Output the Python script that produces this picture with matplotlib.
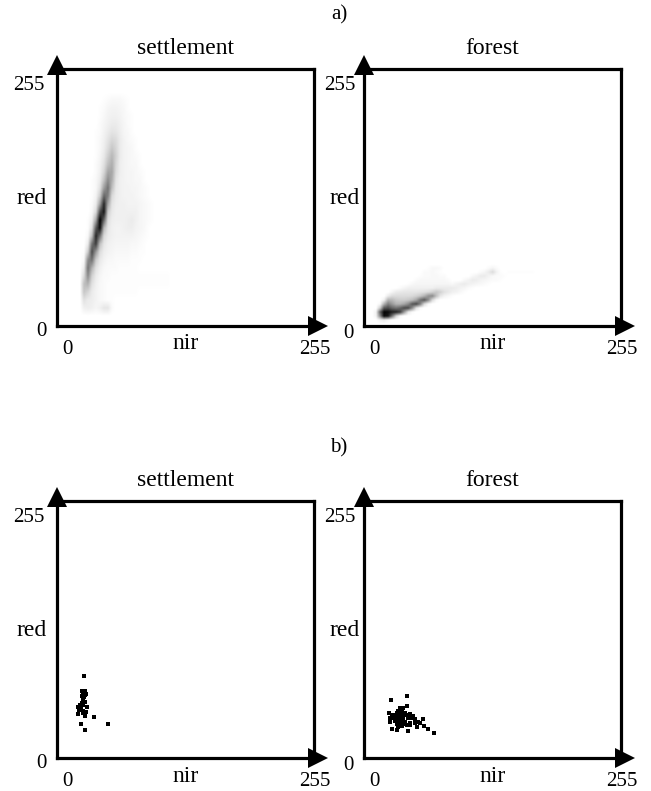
import matplotlib.pyplot as plt
import numpy as np

plt.rcParams['font.family'] = ['Liberation Serif', 'DejaVu Serif']

W, H = 651, 791

# density (darkness 0-100), one row per red value
# rows may stop early, the rest of the row is blank
settle_nir = [27, 31, 35, 39, 43, 47, 51, 55, 59, 63, 67, 71, 75, 79, 83, 87, 91, 95, 99, 103, 107, 111]
settle_red = [226, 218, 210, 202, 194, 186, 178, 170, 162, 154, 146, 138, 130, 122, 114, 106, 98, 90, 82, 74, 66, 58, 50, 42, 34, 26, 18]
settle_density = [
    [0, 0, 0, 0, 0, 1, 2, 3, 3, 3, 2, 1],
    [0, 0, 0, 0, 1, 2, 4, 5, 5, 4, 3, 1],
    [0, 0, 0, 0, 1, 3, 5, 6, 6, 5, 3, 2, 1],
    [0, 0, 0, 0, 2, 4, 6, 8, 8, 6, 4, 2, 1],
    [0, 0, 0, 1, 2, 5, 8, 11, 10, 7, 4, 3, 1],
    [0, 0, 0, 1, 3, 6, 11, 16, 14, 8, 5, 3, 2, 1],
    [0, 0, 0, 1, 3, 7, 14, 22, 16, 8, 5, 4, 3, 1],
    [0, 0, 0, 1, 4, 9, 19, 28, 18, 8, 5, 4, 3, 2, 1],
    [0, 0, 0, 2, 5, 12, 25, 32, 16, 7, 5, 4, 3, 3, 1],
    [0, 0, 0, 2, 6, 16, 35, 35, 14, 7, 5, 4, 4, 3, 2, 1],
    [0, 0, 1, 3, 8, 24, 45, 32, 11, 6, 5, 4, 4, 3, 3, 1],
    [0, 0, 1, 3, 12, 38, 55, 25, 9, 6, 5, 5, 4, 4, 3, 2, 1],
    [0, 0, 1, 5, 20, 60, 50, 15, 8, 6, 5, 5, 5, 4, 3, 2, 1],
    [0, 0, 2, 8, 38, 85, 35, 11, 7, 6, 6, 5, 5, 5, 4, 3, 2, 1],
    [0, 0, 3, 15, 70, 90, 20, 9, 6, 6, 6, 6, 6, 6, 4, 3, 2, 1],
    [0, 1, 6, 35, 100, 60, 13, 7, 6, 6, 6, 7, 8, 6, 4, 3, 2, 1],
    [0, 1, 12, 65, 95, 28, 10, 6, 5, 5, 6, 7, 7, 5, 4, 3, 1],
    [0, 3, 25, 85, 55, 15, 8, 6, 5, 5, 5, 5, 5, 4, 3, 2, 1],
    [0, 8, 55, 75, 25, 10, 6, 5, 4, 4, 4, 4, 3, 3, 2, 1],
    [1, 20, 70, 40, 14, 7, 5, 4, 3, 3, 3, 3, 2, 2, 1, 1],
    [3, 45, 55, 20, 9, 5, 3, 3, 2, 2, 2, 2, 1, 1, 1],
    [8, 55, 30, 12, 6, 3, 2, 2, 2, 1, 1, 1, 1, 1],
    [15, 45, 18, 8, 4, 2, 2, 1, 1, 1, 1, 1, 1, 1, 1, 1, 1, 1, 1, 1, 1, 1],
    [25, 30, 12, 6, 3, 2, 1, 1, 1, 1, 1, 1, 1, 1, 1, 1, 1, 1, 1, 1, 1, 1],
    [22, 16, 8, 5, 3, 2, 1, 1, 1, 1, 1, 1, 1, 1],
    [12, 8, 7, 5, 3, 2, 1, 1],
    [6, 7, 6, 4, 6, 10, 10, 2],
]

forest_nir = [12, 16, 20, 24, 28, 32, 36, 40, 44, 48, 52, 56, 60, 64, 68, 72, 76, 80, 84, 88, 92, 96, 100, 104, 108,
              112, 116, 120, 124, 128, 132, 136, 140, 144, 148, 152, 156, 160, 164, 168]
forest_red = [58, 54, 50, 46, 42, 38, 34, 30, 26, 22, 18, 14, 10, 6]
forest_density = [
    [0, 0, 0, 0, 0, 0, 0, 0, 0, 0, 0, 0, 0, 1, 3, 3, 2, 0, 0, 0, 0, 0, 0, 0, 0, 0, 0, 0, 2, 4, 2],
    [0, 0, 0, 0, 0, 0, 0, 0, 0, 0, 0, 0, 2, 2, 3, 2, 1, 0, 0, 0, 0, 0, 0, 0, 0, 0, 2, 4, 8, 14, 5, 1, 0, 1, 1, 1, 1, 1, 1, 1],
    [0, 0, 0, 0, 0, 0, 0, 0, 0, 0, 0, 1, 2, 2, 3, 3, 2, 2, 0, 0, 0, 0, 0, 0, 3, 5, 8, 8, 5, 3, 2, 2, 1],
    [0, 0, 0, 0, 0, 0, 0, 0, 0, 0, 2, 3, 3, 3, 3, 3, 3, 3, 2, 0, 0, 0, 3, 5, 8, 7, 5, 4, 3, 2, 2, 1],
    [0, 0, 0, 0, 0, 0, 0, 0, 1, 3, 4, 4, 4, 4, 4, 4, 4, 4, 4, 3, 5, 7, 8, 6, 5, 4, 3, 2, 1],
    [0, 0, 0, 0, 0, 0, 2, 4, 6, 6, 6, 6, 6, 6, 6, 8, 8, 8, 8, 8, 7, 5, 4, 2, 1],
    [0, 0, 0, 0, 4, 8, 9, 10, 10, 10, 10, 11, 12, 14, 18, 22, 18, 12, 9, 6, 5, 3, 1],
    [0, 0, 0, 8, 14, 14, 14, 14, 14, 15, 18, 22, 30, 42, 45, 25, 10, 5, 3, 1],
    [0, 0, 6, 30, 28, 22, 20, 20, 22, 26, 35, 55, 65, 45, 15, 3],
    [0, 3, 30, 50, 40, 30, 30, 35, 45, 65, 70, 50, 15, 3],
    [0, 20, 65, 70, 60, 55, 60, 70, 70, 45, 12, 2],
    [5, 60, 98, 95, 88, 85, 75, 40, 10, 2],
    [5, 45, 95, 90, 55, 18, 3],
    [0, 5, 8, 3],
]

# scattered samples in panel b)
settle_pts_nir = [27, 25, 28, 26, 29, 25, 27, 26, 28, 25, 23, 26, 21, 24, 30, 22, 26, 21, 26, 29, 28, 37, 51, 24, 28,
                  27, 28, 26, 24, 23]
settle_pts_red = [82, 67, 67, 65, 64, 62, 61, 58, 56, 55, 53, 53, 51, 50, 51, 48, 47, 44, 45, 46, 42, 41, 34, 34, 28,
                  66, 63, 60, 52, 49]

forest_pts_nir = [43, 27, 70, 64, 60, 28, 33, 44, 43, 39, 36, 34, 38, 41, 33, 36, 39, 25, 28, 31, 34, 38, 43, 46, 49,
                  26, 29, 33, 36, 39, 44, 48, 51, 31, 34, 38, 41, 26, 33, 36, 39, 46, 51, 54, 59, 34, 38, 43, 53, 56, 46]
forest_pts_red = [62, 58, 25, 29, 32, 29, 28, 27, 52, 50, 50, 47, 46, 45, 45, 45, 43, 45, 43, 43, 42, 41, 43, 44, 42,
                  40, 40, 40, 39, 39, 40, 40, 39, 37, 36, 36, 36, 36, 34, 33, 34, 35, 35, 36, 39, 31, 32, 33, 31, 35, 33]


def panel(left, top, title, red_x, num_x, zero_y):
    # panel box is given in pixels of the final picture
    ax = fig.add_axes([left / W, 1 - (top + 257) / H, 257 / W, 257 / H])
    ax.set_xlim(0, 257)
    ax.set_ylim(0, 257)
    ax.set_xticks([])
    ax.set_yticks([])
    for s in ax.spines.values():
        s.set_linewidth(2.3)

    # arrow heads on the axes, they sit a little past the box corner
    ax.plot(0, 261, '^', color='black', ms=14.5, mew=0, clip_on=False, zorder=5)
    ax.plot(261, 0, '>', color='black', ms=14.5, mew=0, clip_on=False, zorder=5)

    ax.text(128.5, 277, title, ha='center', va='center', fontsize=17)
    ax.text(128.5, -18, 'nir', ha='center', va='center', fontsize=17)
    ax.text(red_x, 128, 'red', ha='center', va='center', fontsize=17)
    ax.text(num_x, 241, '255', ha='right', va='center', fontsize=15)
    ax.text(-16, zero_y, '0', ha='center', va='center', fontsize=15)
    ax.text(10, -24, '0', ha='center', va='center', fontsize=15)
    ax.text(258, -24, '255', ha='center', va='center', fontsize=15)
    return ax


def density(ax, nir, red, rows):
    grid = np.zeros((len(red), len(nir)))
    for i, row in enumerate(rows):
        grid[i, :len(row)] = row
    # blank margin so the smoothing fades out at the edges
    grid = np.pad(grid, 1)
    dx = nir[1] - nir[0]
    dy = red[0] - red[1]
    ax.imshow(grid, cmap='gray_r', vmin=0, vmax=100, aspect='auto', interpolation='bilinear',
              extent=[nir[0] - 1.5 * dx, nir[-1] + 1.5 * dx, red[-1] - 1.5 * dy, red[0] + 1.5 * dy], origin='upper')
    ax.set_xlim(0, 257)
    ax.set_ylim(0, 257)


fig = plt.figure(figsize=(W / 100, H / 100), dpi=100)

ax1 = panel(57, 69, 'settlement', -25, -12, -6)
ax2 = panel(364, 69, 'forest', -19, -8, -8)
ax3 = panel(57, 501, 'settlement', -25, -12, -5)
ax4 = panel(364, 501, 'forest', -19, -8, -8)

density(ax1, settle_nir, settle_red, settle_density)
density(ax2, forest_nir, forest_red, forest_density)

ax3.plot(settle_pts_nir, settle_pts_red, 's', color='black', ms=2.6, mew=0)
ax4.plot(forest_pts_nir, forest_pts_red, 's', color='black', ms=2.6, mew=0)

fig.text(339 / W, 1 - 15 / H, 'a)', ha='center', va='center', fontsize=15)
fig.text(339 / W, 1 - 448 / H, 'b)', ha='center', va='center', fontsize=15)

plt.savefig('out.png', dpi=100)
plt.close()
